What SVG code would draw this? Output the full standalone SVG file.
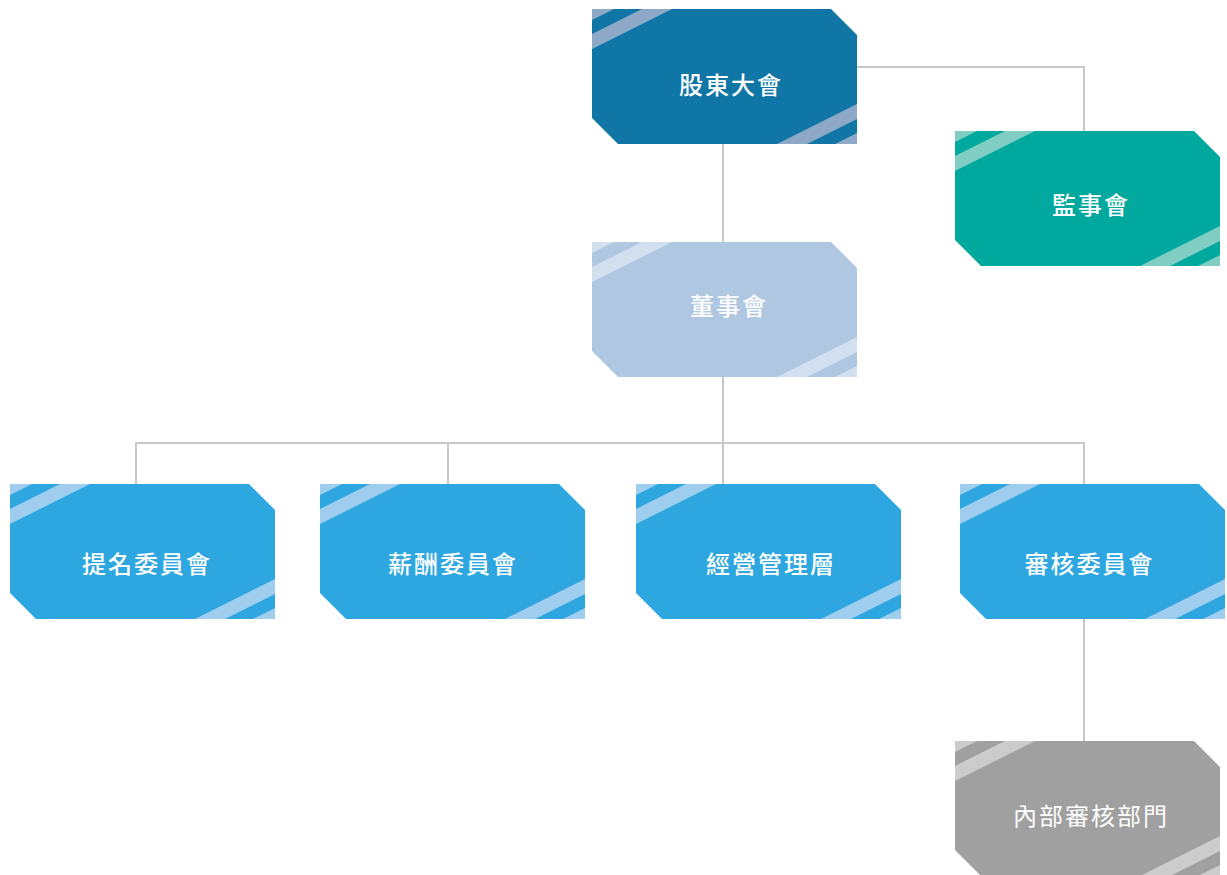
<svg xmlns="http://www.w3.org/2000/svg" xmlns:xlink="http://www.w3.org/1999/xlink" width="1227" height="875" viewBox="0 0 1227 875">
<style>
.lbl{font-family:"Noto Sans CJK TC","Noto Sans CJK SC",sans-serif;font-size:24px;font-weight:500;fill:#ffffff;text-anchor:middle;dominant-baseline:central;letter-spacing:2px}
.conn{fill:none;stroke:#c8c8c8;stroke-width:2}
.c1{fill:#1076a6}.s1{fill:#8ea9c8}
.c2{fill:#00a89e}.s2{fill:#80cdc4}
.c3{fill:#b0c7e1}.s3{fill:#d2dfee}
.c4{fill:#2ea7e1}.s4{fill:#9fcdee}
.c5{fill:#a0a0a0}.s5{fill:#cccccc}
</style>
<defs>
<polygon id="hex" points="0,0 239,0 265,26 265,135 26,135 0,109"/>
<path id="stripes" d="M0,0H22L0,11Z M50,0H80L0,40V25Z M265,135H243L265,124Z M215,135H185L265,95V110Z"/>
</defs>
<rect width="1227" height="875" fill="#ffffff"/>
<g id="connectors" class="conn">
<path d="M857,67H1084V131"/>
<path d="M723,144V242"/>
<path d="M723,377V443"/>
<path d="M136,484V443H1084V484"/>
<path d="M448,443V484"/>
<path d="M723,443V484"/>
<path d="M1084,619V741"/>
</g>
<g id="n1" transform="translate(592,9)">
<use href="#hex" class="c1"/><use href="#stripes" class="s1"/>
<text class="lbl" x="139" y="74">股東大會</text>
</g>
<g id="n2" transform="translate(955,131)">
<use href="#hex" class="c2"/><use href="#stripes" class="s2"/>
<text class="lbl" x="136" y="72.5">監事會</text>
</g>
<g id="n3" transform="translate(592,242)">
<use href="#hex" class="c3"/><use href="#stripes" class="s3"/>
<text class="lbl" x="137" y="62.5">董事會</text>
</g>
<g id="n4" transform="translate(10,484)">
<use href="#hex" class="c4"/><use href="#stripes" class="s4"/>
<text class="lbl" x="137" y="78.5">提名委員會</text>
</g>
<g id="n5" transform="translate(320,484)">
<use href="#hex" class="c4"/><use href="#stripes" class="s4"/>
<text class="lbl" x="133" y="78.5">薪酬委員會</text>
</g>
<g id="n6" transform="translate(636,484)">
<use href="#hex" class="c4"/><use href="#stripes" class="s4"/>
<text class="lbl" x="135" y="78.5">經營管理層</text>
</g>
<g id="n7" transform="translate(960,484)">
<use href="#hex" class="c4"/><use href="#stripes" class="s4"/>
<text class="lbl" x="129.5" y="78.5">審核委員會</text>
</g>
<g id="n8" transform="translate(955,741)">
<use href="#hex" class="c5"/><use href="#stripes" class="s5"/>
<text class="lbl" x="136" y="73" style="font-weight:400">內部審核部門</text>
</g>
</svg>
